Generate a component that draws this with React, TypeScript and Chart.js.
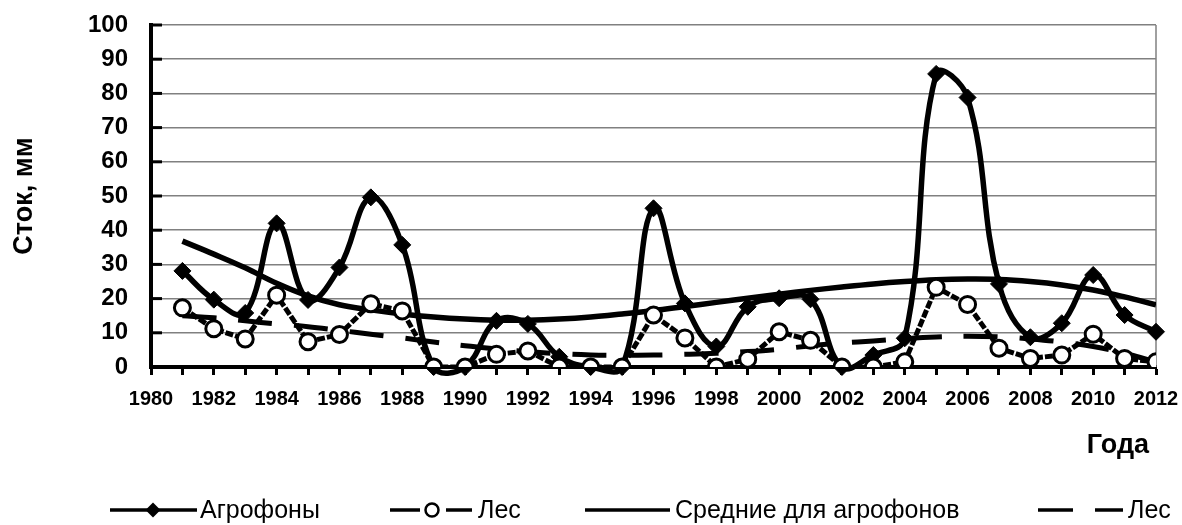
import React, { useEffect, useRef } from "react";
import { Chart, registerables } from "chart.js";

Chart.register(...registerables);

const years = [
  1981, 1982, 1983, 1984, 1985, 1986, 1987, 1988, 1989, 1990, 1991, 1992, 1993, 1994, 1995, 1996,
  1997, 1998, 1999, 2000, 2001, 2002, 2003, 2004, 2005, 2006, 2007, 2008, 2009, 2010, 2011, 2012,
];
const agro = [
  28.1, 19.7, 15.8, 42.0, 19.6, 29.1, 49.6, 35.7, 0, 0, 13.5, 12.6, 3.0, 0, 0, 46.4,
  18.6, 6.0, 17.6, 20.1, 19.8, 0, 3.5, 8.4, 85.7, 78.8, 24.3, 8.7, 12.8, 26.9, 15.2, 10.3,
];
const les = [
  17.3, 11.2, 8.2, 21.0, 7.4, 9.5, 18.5, 16.4, 0, 0, 3.7, 4.7, 0, 0, 0, 15.2,
  8.5, 0, 2.3, 10.3, 7.8, 0, 0, 1.5, 23.3, 18.3, 5.5, 2.5, 3.5, 9.6, 2.5, 1.5,
];
const agroMean = [
  36.8, 33.0, 29.0, 24.5, 20.8, 18.2, 16.7, 15.5, 14.6, 14.0, 13.7, 13.7, 14.0, 14.6, 15.5, 16.5,
  17.7, 18.9, 20.1, 21.3, 22.4, 23.4, 24.3, 25.0, 25.5, 25.7, 25.6, 25.0, 24.0, 22.5, 20.5, 18.2,
];
const lesMean = [
  15.0, 14.4, 13.5, 12.6, 11.8, 10.7, 9.6, 8.5, 7.3, 6.2, 5.3, 4.5, 3.9, 3.5, 3.4, 3.5,
  3.7, 4.0, 4.5, 5.2, 6.2, 7.0, 7.6, 8.3, 8.8, 9.0, 8.8, 8.2, 7.3, 6.0, 4.0, 1.5,
];
const xTickLabels = [
  1980, 1982, 1984, 1986, 1988, 1990, 1992, 1994, 1996, 1998, 2000, 2002, 2004, 2006, 2008, 2010, 2012,
];
const yTickValues = [0, 10, 20, 30, 40, 50, 60, 70, 80, 90, 100];
const seriesNames = ["Агрофоны", "Лес", "Средние для агрофонов", "Лес"];
const yTitle = "Сток, мм";
const xTitle = "Года";

const FONT = "'Liberation Sans', Arial, sans-serif";

const pts = (vals: number[]) => years.map((y, i) => ({ x: y, y: vals[i] }));

const decorPlugin = {
  id: "decor",
  beforeDatasetsDraw(chart: any) {
    const { ctx, chartArea, scales } = chart;
    ctx.save();
    ctx.strokeStyle = "#000";
    ctx.lineWidth = 3;
    yTickValues.forEach((v) => {
      const y = scales.y.getPixelForValue(v);
      ctx.beginPath();
      ctx.moveTo(chartArea.left, y);
      ctx.lineTo(chartArea.left + 11, y);
      ctx.stroke();
    });
    ctx.strokeStyle = "#808080";
    ctx.lineWidth = 1.5;
    ctx.beginPath();
    ctx.moveTo(chartArea.right, chartArea.top);
    ctx.lineTo(chartArea.right, chartArea.bottom);
    ctx.stroke();
    ctx.restore();
  },
  afterDraw(chart: any) {
    const { ctx } = chart;
    ctx.save();
    ctx.fillStyle = "#000";
    ctx.font = `bold 27px ${FONT}`;
    ctx.textAlign = "center";
    ctx.textBaseline = "middle";
    ctx.save();
    ctx.translate(25, 196);
    ctx.rotate(-Math.PI / 2);
    ctx.fillText(yTitle, 0, 0);
    ctx.restore();
    ctx.fillText(xTitle, 1118, 446);

    const ly = 510;
    ctx.strokeStyle = "#000";
    ctx.lineWidth = 3.5;
    ctx.lineCap = "butt";
    const seg = (x1: number, x2: number) => {
      ctx.beginPath();
      ctx.moveTo(x1, ly);
      ctx.lineTo(x2, ly);
      ctx.stroke();
    };
    seg(110, 197);
    ctx.beginPath();
    ctx.moveTo(153, ly - 7.5);
    ctx.lineTo(160.5, ly);
    ctx.lineTo(153, ly + 7.5);
    ctx.lineTo(145.5, ly);
    ctx.closePath();
    ctx.fill();
    seg(390, 420);
    seg(446, 472);
    ctx.beginPath();
    ctx.arc(432, ly, 6.5, 0, Math.PI * 2);
    ctx.fillStyle = "#fff";
    ctx.fill();
    ctx.lineWidth = 2.5;
    ctx.stroke();
    ctx.fillStyle = "#000";
    ctx.lineWidth = 3.5;
    seg(585, 670);
    seg(1038, 1073);
    seg(1095, 1123);

    ctx.font = `25px ${FONT}`;
    ctx.textAlign = "left";
    ctx.textBaseline = "middle";
    ctx.fillText(seriesNames[0], 200, ly + 1);
    ctx.fillText(seriesNames[1], 478, ly + 1);
    ctx.fillText(seriesNames[2], 675, ly + 1);
    ctx.fillText(seriesNames[3], 1128, ly + 1);
    ctx.restore();
  },
};

export default function App() {
  const ref = useRef<HTMLCanvasElement | null>(null);
  useEffect(() => {
    if (!ref.current) return;
    const chart = new Chart(ref.current, {
      type: "line",
      data: {
        datasets: [
          {
            label: seriesNames[1],
            data: pts(les),
            borderColor: "#000",
            borderWidth: 5,
            borderDash: [8, 2],
            tension: 0,
            pointStyle: "circle",
            pointRadius: 8,
            pointBackgroundColor: "#fff",
            pointBorderColor: "#000",
            pointBorderWidth: 3,
            order: 0,
          },
          {
            label: seriesNames[0],
            data: pts(agro),
            borderColor: "#000",
            borderWidth: 5.5,
            tension: 0.4,
            pointStyle: "rectRot",
            pointRadius: 8.5,
            pointBackgroundColor: "#000",
            pointBorderColor: "#000",
            pointBorderWidth: 1,
            clip: 10,
            order: 1,
          },
          {
            label: seriesNames[2],
            data: pts(agroMean),
            borderColor: "#000",
            borderWidth: 5.5,
            tension: 0.4,
            pointRadius: 0,
            order: 2,
          },
          {
            label: seriesNames[3],
            data: pts(lesMean),
            borderColor: "#000",
            borderWidth: 5,
            borderDash: [34, 22],
            tension: 0.4,
            pointRadius: 0,
            order: 3,
          },
        ] as any,
      },
      options: {
        animation: false,
        responsive: false,
        maintainAspectRatio: false,
        layout: { padding: { left: 0, right: 26, top: 25, bottom: 0 } },
        elements: { line: { capBezierPoints: false } },
        plugins: {
          legend: { display: false },
          tooltip: { enabled: false },
          title: { display: false },
        },
        scales: {
          x: {
            type: "linear",
            min: 1980,
            max: 2012,
            afterFit: (s: any) => {
              s.height = 158;
              s.paddingLeft = 0;
              s.paddingRight = 0;
            },
            ticks: {
              stepSize: 1,
              autoSkip: false,
              maxRotation: 0,
              minRotation: 0,
              padding: 12,
              color: "#000",
              font: { family: FONT, size: 20, weight: "bold" },
              callback: (v: any) => (xTickLabels.includes(Number(v)) ? String(v) : ""),
            },
            grid: {
              drawOnChartArea: false,
              drawTicks: true,
              tickLength: 8,
              tickWidth: 3,
              tickColor: "#000",
              color: "#000",
            },
            border: { color: "#000", width: 4 },
          },
          y: {
            min: 0,
            max: 100,
            afterFit: (s: any) => {
              s.width = 151;
              s.paddingTop = 0;
              s.paddingBottom = 0;
            },
            ticks: {
              stepSize: 10,
              padding: 23,
              color: "#000",
              font: { family: FONT, size: 24, weight: "bold" },
            },
            grid: {
              color: "#808080",
              lineWidth: 1.5,
              drawTicks: false,
            },
            border: { color: "#000", width: 4 },
          },
        },
      },
      plugins: [decorPlugin],
    } as any);
    return () => chart.destroy();
  }, []);
  return (
    <div style={{ position: "fixed", left: 0, top: 0, width: 1182, height: 525, background: "#fff" }}>
      <canvas ref={ref} width={1182} height={525} />
    </div>
  );
}
